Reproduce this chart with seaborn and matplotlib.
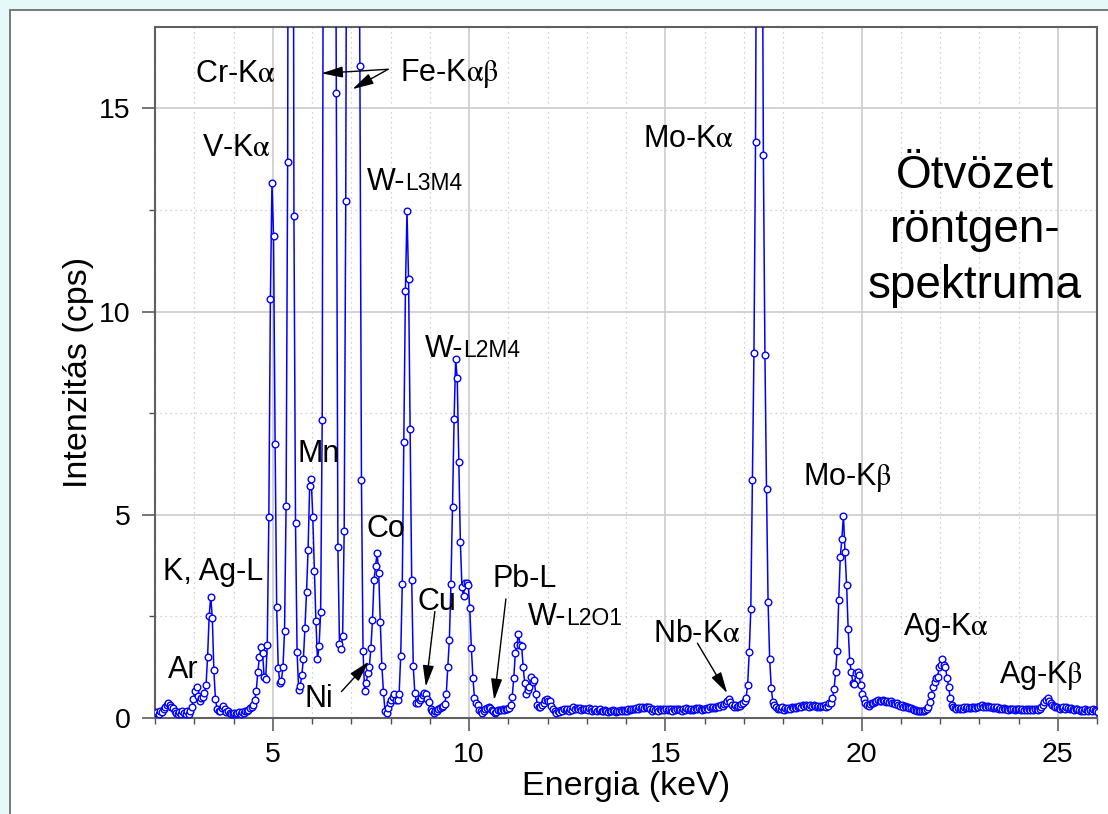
import numpy as np
import pandas as pd
import matplotlib
matplotlib.use("Agg")
import matplotlib.pyplot as plt
import seaborn as sns
from matplotlib.patches import Rectangle
from matplotlib.ticker import MultipleLocator

# ---------------- data (intensity in cps, channel step 0.04 keV) ----------------
STEP = 0.04
band_02 = [0.14, 0.13, 0.15, 0.11, 0.16, 0.15, 0.22, 0.28, 0.33, 0.36, 0.33, 0.28, 0.24, 0.18, 0.13, 0.10, 0.14, 0.10, 0.16, 0.12, 0.09, 0.16, 0.11, 0.16, 0.26]
band_03 = [0.46, 0.66, 0.76, 0.55, 0.42, 0.50, 0.52, 0.62, 0.80, 1.51, 2.51, 2.98, 2.47, 1.17, 0.46, 0.22, 0.18, 0.16, 0.24, 0.30, 0.22, 0.15, 0.16, 0.12, 0.11]
band_04 = [0.10, 0.13, 0.10, 0.12, 0.14, 0.11, 0.15, 0.13, 0.16, 0.17, 0.20, 0.24, 0.28, 0.32, 0.44, 0.67, 1.14, 1.49, 1.74, 1.60, 1.02, 0.97, 1.80, 4.94, 10.3]
band_05 = [13.15, 11.87, 6.75, 2.73, 1.24, 0.86, 0.92, 1.25, 2.13, 5.22, 13.67, 38.0, 52.0, 34.0, 12.35, 4.80, 1.62, 0.70, 0.78, 1.06, 1.44, 2.21, 3.09, 4.14, 5.70]
band_06 = [5.89, 4.94, 3.62, 2.38, 1.44, 1.76, 2.60, 7.32, 26.0, 62.0, 110.0, 135.0, 120.0, 85.0, 48.0, 26.0, 15.38, 4.20, 1.81, 1.70, 2.02, 4.61, 12.73, 28.0, 44.0]
band_07 = [55.0, 60.0, 56.0, 46.0, 34.0, 24.0, 16.03, 5.85, 1.66, 0.66, 0.85, 1.10, 1.25, 1.72, 2.40, 3.40, 3.75, 4.06, 3.56, 2.36, 1.28, 0.65, 0.17, 0.12, 0.24]
band_08 = [0.36, 0.45, 0.52, 0.59, 0.45, 0.45, 0.60, 1.53, 3.30, 6.80, 10.5, 12.47, 10.8, 7.10, 3.40, 1.27, 0.61, 0.38, 0.36, 0.44, 0.50, 0.56, 0.62, 0.58, 0.46]
band_09 = [0.40, 0.21, 0.16, 0.13, 0.16, 0.18, 0.21, 0.24, 0.28, 0.30, 0.35, 0.58, 1.25, 1.93, 3.30, 5.20, 7.35, 8.82, 8.36, 6.31, 4.32, 3.23, 3.00, 3.32, 3.33]
band_10 = [3.28, 2.70, 1.72, 0.98, 0.49, 0.36, 0.32, 0.20, 0.16, 0.13, 0.18, 0.21, 0.25, 0.26, 0.24, 0.20, 0.16, 0.12, 0.15, 0.20, 0.19, 0.20, 0.22, 0.20, 0.21]
band_11 = [0.22, 0.24, 0.32, 0.52, 0.98, 1.59, 1.80, 2.07, 1.80, 1.78, 1.26, 0.85, 0.59, 0.69, 0.77, 1.00, 0.88, 0.93, 0.60, 0.32, 0.26, 0.27, 0.32, 0.38, 0.45]
band_12 = [0.46, 0.43, 0.41, 0.30, 0.21, 0.17, 0.13, 0.18, 0.15, 0.20, 0.17, 0.21, 0.19, 0.22, 0.18, 0.23, 0.20, 0.26, 0.22, 0.25, 0.21, 0.24, 0.20, 0.23, 0.21]
band_13 = [0.22, 0.19, 0.24, 0.21, 0.18, 0.20, 0.22, 0.17, 0.19, 0.21, 0.16, 0.18, 0.20, 0.17, 0.15, 0.18, 0.16, 0.19, 0.17, 0.15, 0.18, 0.16, 0.19, 0.17, 0.20]
band_14 = [0.16, 0.18, 0.21, 0.19, 0.23, 0.21, 0.22, 0.25, 0.23, 0.26, 0.24, 0.27, 0.25, 0.28, 0.26, 0.27, 0.23, 0.17, 0.22, 0.19, 0.21, 0.18, 0.22, 0.20, 0.23]
band_15 = [0.19, 0.22, 0.20, 0.23, 0.21, 0.18, 0.22, 0.19, 0.21, 0.23, 0.20, 0.18, 0.22, 0.20, 0.24, 0.21, 0.19, 0.23, 0.20, 0.22, 0.25, 0.21, 0.24, 0.22, 0.20]
band_16 = [0.23, 0.21, 0.25, 0.22, 0.26, 0.24, 0.28, 0.25, 0.27, 0.30, 0.28, 0.31, 0.29, 0.34, 0.38, 0.42, 0.46, 0.40, 0.33, 0.28, 0.31, 0.27, 0.30, 0.29, 0.34]
band_17 = [0.36, 0.43, 0.50, 0.82, 1.63, 2.68, 5.86, 8.98, 14.17, 24.0, 31.0, 30.0, 23.0, 13.84, 8.92, 5.63, 2.85, 1.46, 0.75, 0.40, 0.33, 0.28, 0.22, 0.25, 0.21]
band_18 = [0.26, 0.20, 0.24, 0.21, 0.25, 0.22, 0.26, 0.24, 0.27, 0.25, 0.28, 0.30, 0.27, 0.31, 0.29, 0.32, 0.30, 0.28, 0.31, 0.29, 0.32, 0.30, 0.27, 0.30, 0.28]
band_19 = [0.30, 0.29, 0.32, 0.28, 0.30, 0.36, 0.38, 0.48, 0.71, 1.12, 1.65, 2.91, 3.97, 4.41, 4.98, 4.08, 3.28, 2.20, 1.40, 1.12, 0.86, 0.83, 1.10, 1.12, 1.06]
band_20 = [0.81, 0.59, 0.46, 0.36, 0.32, 0.30, 0.34, 0.38, 0.36, 0.40, 0.42, 0.44, 0.41, 0.43, 0.45, 0.42, 0.40, 0.43, 0.39, 0.41, 0.37, 0.38, 0.34, 0.36, 0.31]
band_21 = [0.30, 0.32, 0.28, 0.29, 0.26, 0.27, 0.24, 0.25, 0.21, 0.20, 0.19, 0.17, 0.18, 0.16, 0.18, 0.17, 0.19, 0.22, 0.28, 0.40, 0.56, 0.77, 0.89, 0.98, 1.02]
band_22 = [1.26, 1.30, 1.45, 1.30, 1.25, 0.98, 0.77, 0.49, 0.32, 0.26, 0.25, 0.23, 0.24, 0.22, 0.25, 0.23, 0.26, 0.24, 0.27, 0.25, 0.24, 0.26, 0.28, 0.25, 0.27]
band_23 = [0.26, 0.29, 0.31, 0.28, 0.30, 0.27, 0.29, 0.26, 0.28, 0.25, 0.27, 0.24, 0.26, 0.23, 0.25, 0.22, 0.24, 0.21, 0.23, 0.20, 0.22, 0.21, 0.23, 0.20, 0.22]
band_24 = [0.21, 0.23, 0.20, 0.22, 0.19, 0.21, 0.20, 0.22, 0.19, 0.21, 0.20, 0.22, 0.21, 0.19, 0.23, 0.26, 0.33, 0.40, 0.45, 0.48, 0.42, 0.37, 0.33, 0.30, 0.27]
band_25 = [0.26, 0.24, 0.22, 0.25, 0.27, 0.23, 0.26, 0.24, 0.21, 0.25, 0.22, 0.20, 0.23, 0.21, 0.19, 0.17, 0.19, 0.18, 0.21, 0.19, 0.17, 0.20, 0.18, 0.21, 0.19]
band_26 = [0.17, 0.15]

bands = [band_02, band_03, band_04, band_05, band_06, band_07, band_08, band_09,
         band_10, band_11, band_12, band_13, band_14, band_15, band_16, band_17,
         band_18, band_19, band_20, band_21, band_22, band_23, band_24, band_25, band_26]
band_starts = [1.98 + j for j in range(len(bands))]   # keV of first channel in each band

energy, intensity = [], []
for start, vals in zip(band_starts, bands):
    energy.extend(start + STEP * np.arange(len(vals)))
    intensity.extend(vals)
df = pd.DataFrame({"Energia": energy, "Intenzitas": intensity})

# ---------------- style ----------------
sns.set_style("white")
plt.rcParams["font.family"] = ["Liberation Sans", "DejaVu Sans"]
plt.rcParams["mathtext.fontset"] = "stix"
plt.rcParams["text.color"] = "black"
plt.rcParams["axes.labelcolor"] = "black"
plt.rcParams["xtick.color"] = "black"
plt.rcParams["ytick.color"] = "black"

W, H = 1108, 814
fig = plt.figure(figsize=(W / 100, H / 100), dpi=100, facecolor="#e6f9f9")
fig.add_artist(Rectangle((10 / W, -0.1), 1.2, 0.1 + (H - 10) / H, transform=fig.transFigure,
                         facecolor="white", edgecolor="#6e6e6e", lw=1.3, zorder=-5))
ax = fig.add_axes([155 / W, (H - 718) / H, (1097 - 155) / W, (718 - 27) / H])
ax.set_facecolor("white")

sns.lineplot(data=df, x="Energia", y="Intenzitas", ax=ax, color="#0000ff", lw=1.1,
             marker="o", markersize=4.8, markerfacecolor="white", markeredgecolor="#0000ff",
             markeredgewidth=1.0, estimator=None, sort=False, zorder=3)

ax.set_xlim(2, 26)
ax.set_ylim(0, 17)
ax.xaxis.set_major_locator(MultipleLocator(5))
ax.xaxis.set_minor_locator(MultipleLocator(1))
ax.yaxis.set_major_locator(MultipleLocator(5))
ax.yaxis.set_minor_locator(MultipleLocator(2.5))
ax.set_axisbelow(True)
ax.grid(which="major", color="#cccccc", lw=1.2, ls="-")
ax.grid(which="minor", color="#c4c4c4", lw=0.9, ls=(0, (1, 3)))
ax.tick_params(which="major", direction="out", length=9.5, width=1.1, color="#505050",
               labelcolor="black", labelsize=20.5, pad=8, bottom=True, left=True)
ax.tick_params(which="minor", direction="out", length=4, width=1.0, color="#505050",
               bottom=True, left=True)
for s in ax.spines.values():
    s.set_color("#606060")
    s.set_linewidth(1.5)

ax.set_xlabel("Energia (keV)", fontsize=24.5, labelpad=2, color="black")
ax.set_ylabel("Intenzitás (cps)", fontsize=24.5, labelpad=4, color="black")

FS = 22
labels = [
    ("Cr-K$\\mathrm{\\alpha}$", 3.01, 15.64),
    ("V-K$\\mathrm{\\alpha}$", 3.19, 13.82),
    ("Fe-K$\\mathrm{\\alpha\\beta}$", 8.25, 15.67),
    ("Mn", 5.64, 6.31),
    ("Co", 7.39, 4.46),
    ("Ni", 5.82, 0.27),
    ("Cu", 8.70, 2.66),
    ("Pb-L", 10.61, 3.23),
    ("Mo-K$\\mathrm{\\alpha}$", 14.43, 14.04),
    ("Mo-K$\\mathrm{\\beta}$", 18.50, 5.74),
    ("Nb-K$\\mathrm{\\alpha}$", 14.69, 1.87),
    ("Ag-K$\\mathrm{\\alpha}$", 21.06, 2.04),
    ("Ag-K$\\mathrm{\\beta}$", 23.50, 0.85),
    ("K, Ag-L", 2.20, 3.40),
    ("Ar", 2.33, 0.99),
]
for txt, x, y in labels:
    ax.text(x, y, txt, fontsize=FS, va="baseline", ha="left", color="black", zorder=5)

# W lines with smaller transition names
w_labels = [("L3M4", 7.39, 12.99), ("L2M4", 8.87, 8.89), ("L2O1", 11.50, 2.29)]
fig.canvas.draw()
renderer = fig.canvas.get_renderer()
for sub, x, y in w_labels:
    t = ax.text(x, y, "W-", fontsize=FS, va="baseline", ha="left", color="black", zorder=5)
    bb = t.get_window_extent(renderer)
    x1 = ax.transData.inverted().transform((bb.x1, bb.y0))[0]
    ax.text(x1, y, sub, fontsize=16.5, va="baseline", ha="left", color="black", zorder=5)

# title block
for txt, yb in [("Ötvözet", 13.05), ("röntgen-", 11.70), ("spektruma", 10.34)]:
    ax.text(22.89, yb, txt, fontsize=33, ha="center", va="baseline", color="black", zorder=5)

# arrows
arrow_kw = dict(arrowstyle="-|>,head_length=0.65,head_width=0.17", mutation_scale=20,
                color="black", lw=1.0, shrinkA=0, shrinkB=0)
arrows = [
    ((7.94, 15.96), (6.24, 15.86)),
    ((7.94, 15.96), (7.03, 15.47)),
    ((6.75, 0.65), (7.45, 1.39)),
    ((9.13, 2.62), (8.90, 0.77)),
    ((10.94, 2.93), (10.64, 0.44)),
    ((15.82, 1.84), (16.58, 0.61)),
]
for tail, head in arrows:
    ax.annotate("", xy=head, xytext=tail, arrowprops=arrow_kw, zorder=6)

fig.savefig("out.png", dpi=100, facecolor=fig.get_facecolor())
